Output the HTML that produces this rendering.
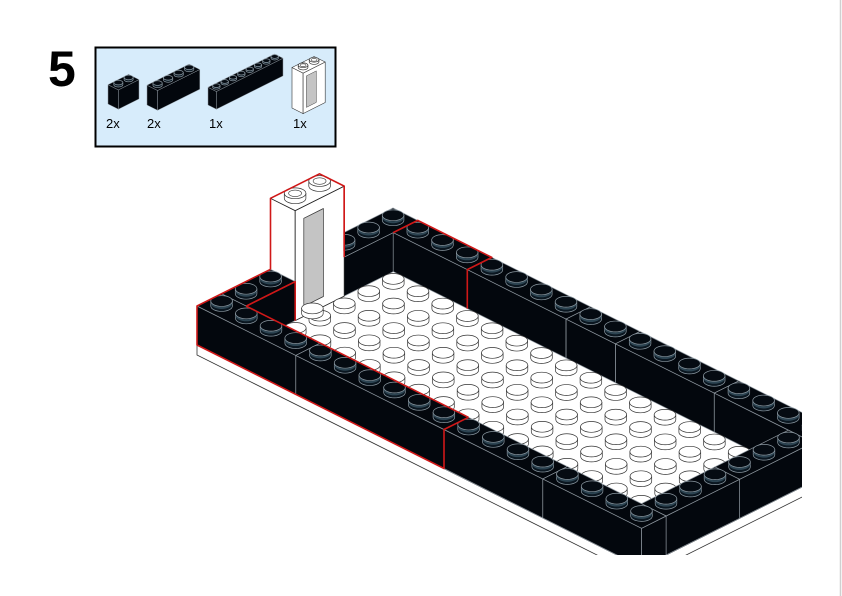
<!DOCTYPE html>
<html><head><meta charset="utf-8"><style>
html,body{margin:0;padding:0;background:#fff;}
#w{position:relative;width:842px;height:596px;overflow:hidden;background:#fff;}
#num{position:absolute;left:48px;top:44px;font:bold 50px "Liberation Sans",sans-serif;color:#000;line-height:1;}
.lbl{position:absolute;font:13px "Liberation Sans",sans-serif;color:#000;}
</style></head><body><div id="w">
<svg id="s" width="842" height="596" style="position:absolute;left:0;top:0">
<defs><clipPath id="cp"><rect x="0" y="0" width="802" height="555"/></clipPath></defs>
<rect x="95.5" y="47.5" width="240" height="99" fill="#d7ecfb" stroke="#000" stroke-width="2"/>
<line x1="840.5" y1="0" x2="840.5" y2="596" stroke="#d0d0d0" stroke-width="1.5"/>
<g id="parts"></g>
<g id="model" clip-path="url(#cp)"></g>
</svg>
<div id="num">5</div>
<div class="lbl" style="left:106px;top:116px">2x</div>
<div class="lbl" style="left:147px;top:116px">2x</div>
<div class="lbl" style="left:209px;top:116px">1x</div>
<div class="lbl" style="left:293px;top:116px">1x</div>
</div>
<script>
function mk(ox,oy,s){return function(a,b,z){return [ox+s*(24.7*a+24.5*b), oy+s*(12.35*a-12.25*b)-s*z];};}
function pts(arr){return arr.map(p=>p[0].toFixed(1)+','+p[1].toFixed(1)).join(' ');}
function poly(out,arr,fill,stroke,sw){out.push('<polygon points="'+pts(arr)+'" fill="'+fill+'" stroke="'+stroke+'" stroke-width="'+sw+'" stroke-linejoin="round"/>');}
function stud(out,P,s,a,b,z,dark,hollow){
 var c=P(a,b,z),cx=c[0],cy=c[1],rx=10.8*s,ry=5.4*s,h=5*s;
 var side=dark?'#0a1620':'#fff', top=dark?'#050b12':'#fff', st=dark?'#8d9aa3':'#333', sw=0.7;
 out.push('<path d="M'+(cx-rx)+','+(cy-h)+' L'+(cx-rx)+','+cy+' A'+rx+','+ry+' 0 0 0 '+(cx+rx)+','+cy+' L'+(cx+rx)+','+(cy-h)+' Z" fill="'+side+'" stroke="'+st+'" stroke-width="'+sw+'"/>');
 if(dark) out.push('<path d="M'+(cx-rx+1)+','+(cy-h+2*s)+' A'+(rx-1)+','+(ry-0.5)+' 0 0 0 '+(cx+rx-1)+','+(cy-h+2*s)+'" fill="none" stroke="#2c4452" stroke-width="'+(2*s)+'"/>');
 out.push('<ellipse cx="'+cx+'" cy="'+(cy-h)+'" rx="'+rx+'" ry="'+ry+'" fill="'+top+'" stroke="'+st+'" stroke-width="'+sw+'"/>');
 if(hollow) out.push('<ellipse cx="'+cx+'" cy="'+(cy-h)+'" rx="'+(rx*0.6)+'" ry="'+(ry*0.6)+'" fill="#fff" stroke="#333" stroke-width="0.6"/>');
}
function box(out,P,s,a0,a1,b0,b1,z0,z1,opt){
 var f=opt.fill,st=opt.stroke,sw=opt.sw||0.7;
 poly(out,[P(a0,b0,z0),P(a1,b0,z0),P(a1,b0,z1),P(a0,b0,z1)],f,st,sw);
 poly(out,[P(a1,b0,z0),P(a1,b1,z0),P(a1,b1,z1),P(a1,b0,z1)],f,st,sw);
 poly(out,[P(a0,b0,z1),P(a1,b0,z1),P(a1,b1,z1),P(a0,b1,z1)],f,st,sw);
 if(opt.studs){
  for(var b=b1-1;b>=b0;b--) for(var a=a0;a<a1;a++) stud(out,P,s,a+0.5,b+0.5,z1,opt.dark,opt.hollow);
 }
}
var BL={fill:'#03070d',stroke:'#8d969e',sw:0.7,studs:true,dark:true};
var P=mk(197,345,1);
var o=[];
box(o,P,1,0,18,0,8,-10,0,{fill:'#fff',stroke:'#333',sw:0.8});
box(o,P,1,0,1,5,8,0,39,BL);
[[1,4],[4,8],[8,10],[10,14],[14,18]].forEach(function(s){box(o,P,1,s[0],s[1],7,8,0,39,BL);});
box(o,P,1,0,1,3,5,0,110,{fill:'#fff',stroke:'#222',sw:0.8});
poly(o,[P(1,3.35,10),P(1,4.15,10),P(1,4.15,98),P(1,3.35,98)],'#c4c4c4','#333',0.7);
stud(o,P,1,0.5,3.5,110,false,true);stud(o,P,1,0.5,4.5,110,false,true);
box(o,P,1,0,1,1,3,0,39,BL);
for(var b=6;b>=1;b--) for(var a=1;a<17;a++) stud(o,P,1,a+0.5,b+0.5,0,false,false);
stud(o,P,1,1.3,3.4,6,false,false);
[[4,7],[1,4]].forEach(function(s){box(o,P,1,17,18,s[0],s[1],0,39,BL);});
[[0,4],[4,10],[10,14],[14,18]].forEach(function(s){box(o,P,1,s[0],s[1],0,1,0,39,BL);});
function red(arr){o.push('<polyline points="'+pts(arr)+'" fill="none" stroke="#d01818" stroke-width="1.6" stroke-linejoin="round"/>');}
red([P(10,1,39),P(10,0,39),P(10,0,0),P(0,0,0),P(0,0,39),P(0,3,39)]);
red([P(1,1,39),P(10,1,39)]);
red([P(1,1,39),P(1,3,39),P(1,3,0)]);
red([P(0,3,39),P(0,3,110),P(0,5,110),P(1,5,110),P(1,5,39)]);
red([P(1,5,110),P(1,5,45)]);
red([P(1,7,39),P(1,8,39),P(4,8,39),P(4,7,39),P(4,7,0)]);
document.getElementById('model').innerHTML=o.join('');
var q=[];
var BS={fill:'#03070d',stroke:'#8d969e',sw:0.5,studs:true,dark:true};
var p1=mk(108,104,0.42);box(q,p1,0.42,0,1,0,2,0,46,BS);
var p2=mk(147,105,0.43);box(q,p2,0.43,0,1,0,4,0,46,BS);
var p3=mk(208,105,0.34);box(q,p3,0.34,0,1,0,8,0,52,BS);
var p4=mk(292,108,0.45);box(q,p4,0.45,0,1,0,2,0,90,{fill:'#fff',stroke:'#333',sw:0.6});
poly(q,[p4(1,0.3,10),p4(1,1.2,10),p4(1,1.2,80),p4(1,0.3,80)],'#c4c4c4','#444',0.5);
stud(q,p4,0.45,0.5,0.5,90,false,true);stud(q,p4,0.45,0.5,1.5,90,false,true);
document.getElementById('parts').innerHTML=q.join('');
</script>
</body></html>
